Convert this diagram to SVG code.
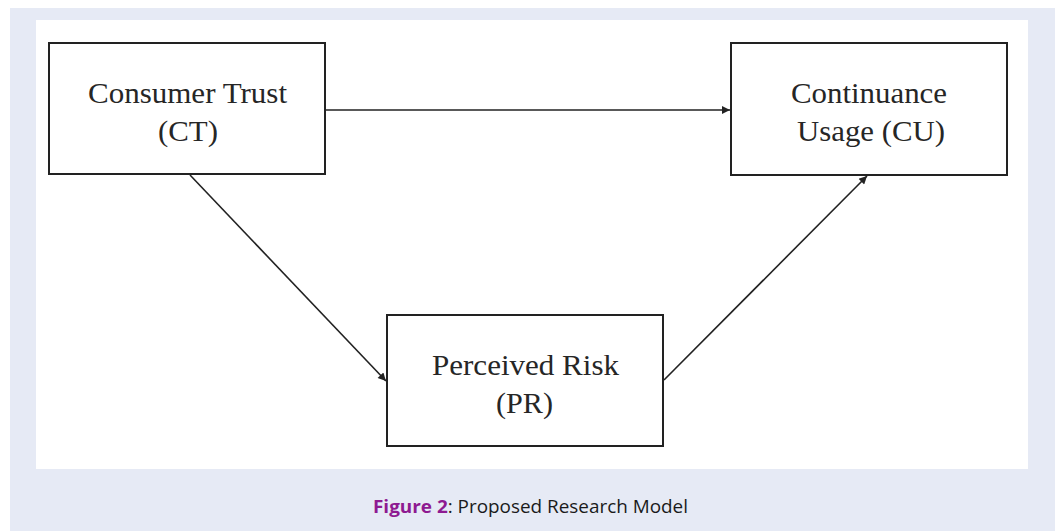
<svg xmlns="http://www.w3.org/2000/svg" width="1055" height="531" viewBox="0 0 1055 531">
<defs>
<style>
.box{fill:#fff;stroke:#222;stroke-width:2}
.t{font-family:"Liberation Serif","Times New Roman",serif;font-size:29px;fill:#262626;text-anchor:middle}
.c{stroke:#222;stroke-width:1.6;fill:none;marker-end:url(#ah)}
.cap{font-family:"Open Sans","Noto Sans",sans-serif;font-size:18.5px;fill:#1a1a1a}
</style>
<marker id="ah" viewBox="0 0 10 10" refX="10" refY="5" markerWidth="9" markerHeight="8" orient="auto" markerUnits="userSpaceOnUse"><path d="M0,0 L10,5 L0,10 z" fill="#222"/></marker>
</defs>
<rect x="0" y="0" width="1055" height="531" fill="#fff"/>
<rect x="10" y="8" width="1045" height="523" fill="#e6eaf5"/>
<rect x="36" y="20" width="992" height="449" fill="#fff"/>
<g id="connectors">
<line class="c" x1="326" y1="110" x2="730" y2="110"/>
<line class="c" x1="190" y1="175" x2="386" y2="381"/>
<line class="c" x1="664" y1="380" x2="867" y2="176"/>
</g>
<g id="node-ct">
<rect class="box" x="49" y="43" width="276" height="131"/>
<text class="t" x="187.5" y="103" textLength="199" lengthAdjust="spacingAndGlyphs">Consumer Trust</text>
<text class="t" x="188" y="141" textLength="60" lengthAdjust="spacingAndGlyphs">(CT)</text>
</g>
<g id="node-cu">
<rect class="box" x="731" y="43" width="276" height="132"/>
<text class="t" x="869" y="103" textLength="156" lengthAdjust="spacingAndGlyphs">Continuance</text>
<text class="t" x="871" y="141" textLength="148" lengthAdjust="spacingAndGlyphs">Usage (CU)</text>
</g>
<g id="node-pr">
<rect class="box" x="387" y="315" width="276" height="131"/>
<text class="t" x="525.5" y="375" textLength="187" lengthAdjust="spacingAndGlyphs">Perceived Risk</text>
<text class="t" x="524.5" y="413" textLength="57" lengthAdjust="spacingAndGlyphs">(PR)</text>
</g>
<text class="cap" x="373" y="513" textLength="315" lengthAdjust="spacingAndGlyphs"><tspan fill="#8e1a91" font-weight="bold">Figure 2</tspan>: Proposed Research Model</text>
</svg>
